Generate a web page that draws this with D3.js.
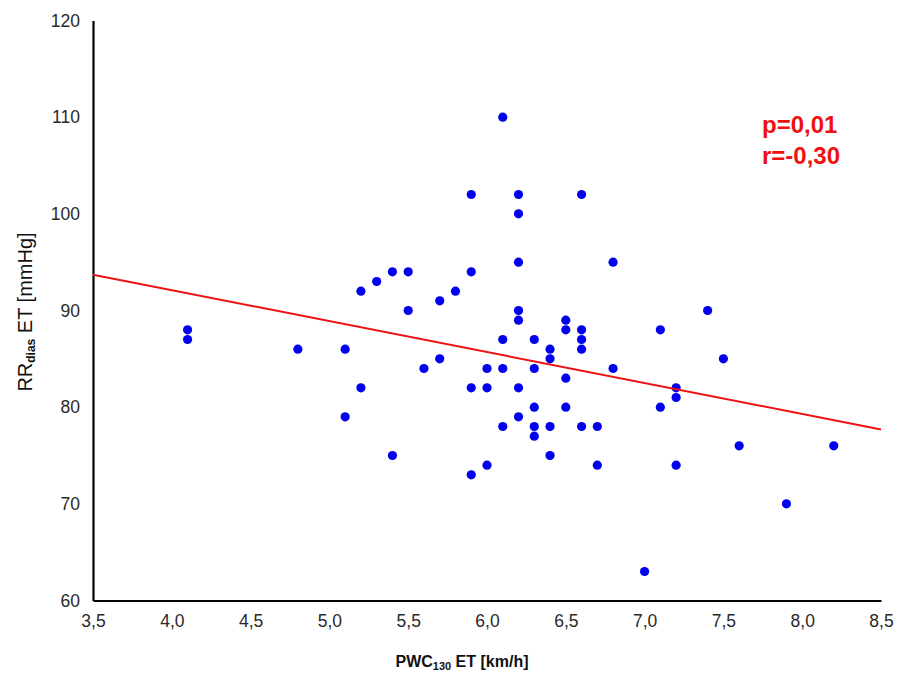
<!DOCTYPE html>
<html><head><meta charset="utf-8">
<script src="https://cdn.jsdelivr.net/npm/d3@7"></script>
<style>body{margin:0;background:#fff}</style>
</head><body>
<svg id="chart" width="898" height="675"></svg>
<script>
// data
const pwc = [4.1,4.1,4.8,5.1,5.1,5.2,5.2,5.3,5.4,5.4,5.5,5.5,5.6,5.7,5.7,5.8,
  5.9,5.9,5.9,5.9,6.0,6.0,6.0,6.1,6.1,6.1,6.1,
  6.2,6.2,6.2,6.2,6.2,6.2,6.2,
  6.3,6.3,6.3,6.3,6.3,
  6.4,6.4,6.4,6.4,
  6.5,6.5,6.5,6.5,
  6.6,6.6,6.6,6.6,6.6,
  6.7,6.7,6.8,6.8,7.0,7.1,7.1,7.2,7.2,7.2,7.4,7.5,7.6,7.9,8.2];
const rrDias = [88,87,86,86,79,92,82,93,94,75,94,90,84,91,85,92,
  102,94,82,73,84,82,74,110,87,84,78,
  102,100,95,90,89,82,79,
  87,84,80,78,77,
  86,85,78,75,
  89,88,83,80,
  102,88,87,86,78,
  78,74,95,84,63,88,80,82,81,74,90,85,76,70,76];
const trendX = [3.5, 8.5];
const trendY = [93.7, 77.7];
const xTicks = [3.5,4.0,4.5,5.0,5.5,6.0,6.5,7.0,7.5,8.0,8.5];
const yTicks = [60,70,80,90,100,110,120];
const stats = ["p=0,01", "r=-0,30"];

const svg = d3.select("#chart");
const x = d3.scaleLinear().domain([3.5, 8.5]).range([93, 881]);
const y = d3.scaleLinear().domain([60, 120]).range([600.5, 20.5]);
const fmt = d => d.toFixed(1).replace(".", ",");

// axes
const xAxis = svg.append("g").attr("transform", "translate(0,600.5)")
  .call(d3.axisBottom(x).tickValues(xTicks).tickFormat(fmt).tickSize(0).tickPadding(14));
const yAxis = svg.append("g").attr("transform", "translate(93,0)")
  .call(d3.axisLeft(y).tickValues(yTicks).tickFormat(d3.format("d")).tickSize(0).tickPadding(13));
[xAxis, yAxis].forEach(g => {
  g.select(".domain").attr("stroke", "#000").attr("stroke-width", 2.2);
  g.selectAll("text").attr("font-family", "Liberation Sans, Arial, sans-serif")
    .attr("font-size", 17.5).attr("fill", "#2a2a2a");
});

// points
const pts = pwc.map((v, i) => [v, rrDias[i]]);
svg.append("g").selectAll("circle").data(pts).join("circle")
  .attr("cx", d => x(d[0])).attr("cy", d => y(d[1])).attr("r", 4.6)
  .attr("fill", "#0000ee");

// trend line
svg.append("path")
  .datum(trendX.map((v, i) => [v, trendY[i]]))
  .attr("d", d3.line().x(d => x(d[0])).y(d => y(d[1])))
  .attr("stroke", "#ee1111").attr("stroke-width", 2).attr("fill", "none");

// stats
svg.append("g").selectAll("text").data(stats).join("text")
  .attr("x", 762).attr("y", (d, i) => 133 + i * 31)
  .attr("font-family", "Liberation Sans, Arial, sans-serif").attr("font-weight", "bold")
  .attr("font-size", 24).attr("fill", "#ee1111").text(d => d);

// axis titles
const xt = svg.append("text").attr("x", 462).attr("y", 667).attr("text-anchor", "middle")
  .attr("font-family", "Liberation Sans, Arial, sans-serif").attr("font-weight", "bold")
  .attr("font-size", 16).attr("fill", "#111");
xt.append("tspan").text("PWC");
xt.append("tspan").attr("font-size", 11).attr("dy", 3).text("130");
xt.append("tspan").attr("dy", -3).text(" ET [km/h]");

const yt = svg.append("text").attr("transform", "translate(32,312) rotate(-90)")
  .attr("text-anchor", "middle")
  .attr("font-family", "Liberation Sans, Arial, sans-serif")
  .attr("font-size", 20).attr("fill", "#111");
yt.append("tspan").text("RR");
yt.append("tspan").attr("font-size", 12).attr("font-weight", "bold").attr("dy", 3).text("dias");
yt.append("tspan").attr("dy", -3).text(" ET [mmHg]");
</script>
</body></html>
